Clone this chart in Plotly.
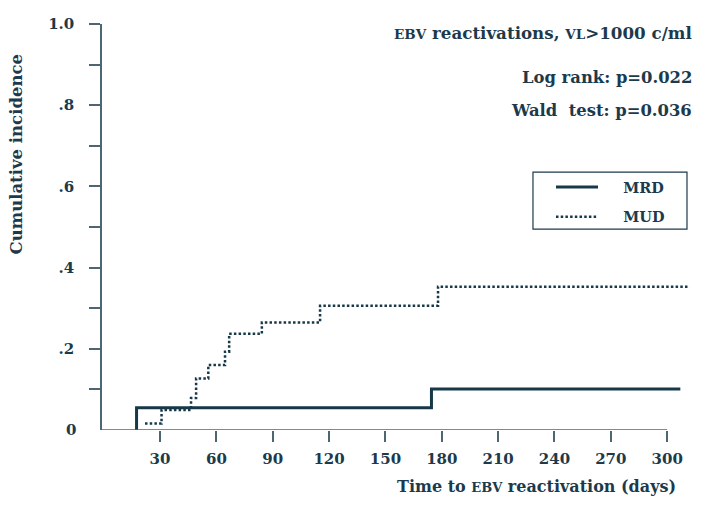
import plotly.graph_objects as go

# ---- data ----
mrd_days = [17.5, 17.5, 174.5, 307]
mrd_ci = [0.0, 0.055, 0.101, 0.101]

mud_days = [22, 30.8, 46.5, 49.2, 55.7, 64.6, 66.8, 84.2, 115.2, 178, 312]
mud_ci = [0.016, 0.049, 0.079, 0.127, 0.160, 0.193, 0.237, 0.265, 0.306, 0.353, 0.353]

x_ticks = [30, 60, 90, 120, 150, 180, 210, 240, 270, 300]
y_ticks = [0.1, 0.2, 0.3, 0.4, 0.5, 0.6, 0.7, 0.8, 0.9, 1.0]
y_ticktext = ["", ".2", "", ".4", "", ".6", "", ".8", "", "1.0"]

TXT = "#1c3a4b"
AX = "#4d6674"
LINE = "#173848"
FONT = "DejaVu Serif"
PAD = "\u00a0\u00a0\u00a0\u00a0"

fig = go.Figure()
fig.add_trace(go.Scatter(x=mrd_days, y=mrd_ci, mode="lines", name=PAD + "MRD", legendgroup="a",
                         line=dict(shape="hv", color=LINE, width=3),
                         cliponaxis=False))
fig.add_trace(go.Scatter(x=mud_days, y=mud_ci, mode="lines", name=PAD + "MUD", legendgroup="b",
                         line=dict(shape="hv", color=LINE, width=2.5, dash="2.5px,2.2px"),
                         cliponaxis=False))

xmin, xmax = -0.9, 318
L, R, T, B = 102, 2, 24, 79
fig.update_layout(
    width=703, height=509,
    margin=dict(l=L, r=R, t=T, b=B),
    paper_bgcolor="white", plot_bgcolor="white",
    font=dict(family=FONT, color=TXT, size=15),
    showlegend=True,
    legend=dict(x=0.7496, y=0.638, xanchor="left", yanchor="top",
                borderwidth=0, bgcolor="rgba(0,0,0,0)",
                font=dict(family=FONT, size=14.5, color=TXT, weight="bold"),
                itemwidth=42, traceorder="grouped", tracegroupgap=8),
    xaxis=dict(range=[xmin, xmax], showgrid=False, zeroline=False, showline=False,
               tickvals=x_ticks, ticks="outside", ticklen=11, tickcolor=AX, tickwidth=1.5,
               tickfont=dict(family=FONT, size=15, color=TXT, weight="bold"),
               ticklabelstandoff=4),
    yaxis=dict(range=[0, 1.0], showgrid=False, zeroline=False, showline=True,
               linecolor=AX, linewidth=1.5,
               tickvals=y_ticks, ticktext=y_ticktext, ticks="outside", ticklen=11,
               tickcolor=AX, tickwidth=1.5,
               tickfont=dict(family=FONT, size=15, color=TXT, weight="bold"),
               ticklabelstandoff=12),
)

# x axis line ends at the last tick (300)
fig.add_shape(type="line", xref="x", yref="y", x0=xmin, x1=x_ticks[-1], y0=0, y1=0,
              line=dict(color=AX, width=1.5))
# legend frame
fig.add_shape(type="rect", xref="paper", yref="paper", x0=0.7195, x1=0.9766, y0=0.495, y1=0.635,
              line=dict(color=TXT, width=1.2), fillcolor="rgba(0,0,0,0)", layer="below")

bold = dict(family=FONT, color=TXT, weight="bold")
fig.add_annotation(text="0", xref="paper", yref="y", x=0, y=0, xanchor="right", yanchor="middle",
                   xshift=-24, showarrow=False, font=dict(size=15, **bold))
fig.add_annotation(text="Cumulative incidence", textangle=-90, xref="paper", yref="paper",
                   x=-0.142, y=0.6786, xanchor="center", yanchor="middle",
                   showarrow=False, font=dict(size=16.5, **bold))
fig.add_annotation(text='Time to <span style="font-size:13px">EBV</span> reactivation (days)',
                   xref="paper", yref="paper", x=0.962, y=-0.14, xanchor="right", yanchor="middle",
                   showarrow=False, font=dict(size=16, **bold))
fig.add_annotation(text='<span style="font-size:13.5px">EBV</span> reactivations, '
                        '<span style="font-size:13.5px">VL</span>>1000 c/ml',
                   xref="paper", yref="paper", x=0.988, y=0.978, xanchor="right", yanchor="middle",
                   showarrow=False, font=dict(size=16.7, **bold))
fig.add_annotation(text="Log rank: p=0.022", xref="paper", yref="paper", x=0.988, y=0.867,
                   xanchor="right", yanchor="middle", showarrow=False, font=dict(size=16.4, **bold))
fig.add_annotation(text="Wald  test: p=0.036", xref="paper", yref="paper", x=0.988, y=0.788,
                   xanchor="right", yanchor="middle", showarrow=False, font=dict(size=16.4, **bold))

fig.write_html("out.html", config={"displayModeBar": False},
               post_script="document.body.style.margin='0';")
